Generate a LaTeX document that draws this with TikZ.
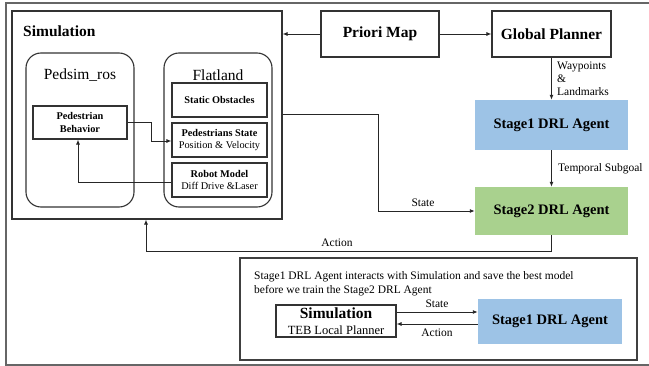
\documentclass[tikz,border=0pt]{standalone}
\usepackage{fontspec}
\setmainfont{Liberation Serif}
\usetikzlibrary{arrows.meta}
\newcommand{\fs}[1]{\fontsize{#1}{1.2\dimexpr#1pt\relax}\selectfont}
\begin{document}
\begin{tikzpicture}[x=1pt,y=-1pt,
  box/.style={draw=black!80,line width=1.1pt,rectangle,inner sep=0pt,align=center},
  rbox/.style={box,rounded corners=15pt},
  sbox/.style={box,minimum width=95pt,minimum height=34pt},
  arr/.style={-{Latex[length=5pt,width=4pt]},line width=0.9pt,draw=black!85},
  lbl/.style={inner sep=0pt,font=\fs{11.5}},
  big/.style={font=\bfseries\fs{15.5}},
  small/.style={font=\fs{10.3}}
]
\useasboundingbox (0,0) rectangle (649,366);
\draw[line width=1.3pt,draw=black!60] (660,3) -- (6,3) -- (6,365) -- (660,365);

% Simulation group
\node[box,minimum width=270pt,minimum height=208pt] (sim) at (147,115) {};
\node[anchor=west,inner sep=0pt,big] (simt) at (23,31) {Simulation};
\node[rbox,minimum width=108pt,minimum height=154pt] (ped) at (80,130) {};
\node[inner sep=0pt,font=\fs{15.5}] (pedt) at (80,75) {Pedsim\_ros};
\node[rbox,minimum width=108pt,minimum height=154pt] (flat) at (218,130) {};
\node[inner sep=0pt,font=\fs{15.5}] (flatt) at (218,75) {Flatland};
\node[sbox,small] (stat) at (219.5,100) {\textbf{Static Obstacles}};
\node[sbox,small] (pstate) at (219.5,140) {\textbf{Pedestrians State}\\Position \& Velocity};
\node[sbox,small] (robot) at (219.5,180) {\textbf{Robot Model}\\Diff Drive \&Laser};
\node[box,minimum width=94pt,minimum height=33pt,font=\bfseries\fs{10.3}] (pbeh) at (80,122.5) {Pedestrian\\Behavior};

% Top row
\node[box,minimum width=118pt,minimum height=46pt,big] (priori) at (380,34) {Priori Map};
\node[box,minimum width=119pt,minimum height=46pt,big] (glob) at (551.5,34) {Global Planner};
\node[rectangle,fill={rgb,255:red,157;green,195;blue,230},minimum width=153pt,minimum height=50pt,font=\bfseries\fs{14.5}] (s1) at (551.5,125) {Stage1 DRL Agent};
\node[rectangle,fill={rgb,255:red,169;green,209;blue,142},minimum width=153pt,minimum height=48pt,font=\bfseries\fs{14.5}] (s2) at (551.5,211) {Stage2 DRL Agent};

% connectors
\draw[arr] (priori.west) -- (priori.west -| sim.east);
\draw[arr] (priori.east) -- (glob.west);
\draw[arr] (glob.south) -- (s1.north);
\node[lbl,anchor=west,align=left] (wp) at (557,79) {Waypoints\\[-1pt]\&\\[-1pt]Landmarks};
\draw[arr] (s1.south) -- (s2.north);
\node[lbl,anchor=west] (ts) at (558,169) {Temporal Subgoal};
\coordinate (c1) at (378,114);
\draw[arr] (sim.east |- c1) -- (c1) -- (c1 |- s2.west) -- (s2.west);
\node[lbl] (st) at (423,203) {State};
\coordinate (c2) at (146,251);
\draw[arr] (s2.south) -- (s2.south |- c2) -- (c2) -- (c2 |- sim.south);
\node[lbl] (act) at (337,243) {Action};

\coordinate (c3) at (151,122.5);
\draw[arr] (pbeh.east) -- (c3) -- (c3 |- 0,141) -- (pstate.west |- 0,141);
\coordinate (c4) at (78,182);
\draw[arr] (robot.west |- c4) -- (c4) -- (c4 |- pbeh.south);

% bottom box
\node[box,line width=1.1pt,draw=black!75,minimum width=397pt,minimum height=102pt] (bot) at (438.5,309) {};
\node[anchor=west,align=left,inner sep=0pt,font=\fs{11.5}] (btxt) at (254,283.5) {Stage1 DRL Agent interacts with Simulation and save the best model\\before we train the Stage2 DRL Agent};
\node[box,minimum width=120pt,minimum height=32pt] (simb) at (336,321) {};
\node[inner sep=0pt,big] (simbt) at (336,313) {Simulation};
\node[inner sep=0pt,font=\fs{12.5}] (simbs) at (336,330) {TEB Local Planner};
\node[rectangle,fill={rgb,255:red,157;green,195;blue,230},minimum width=144pt,minimum height=45pt,font=\bfseries\fs{14.5}] (s1b) at (550,321.5) {Stage1 DRL Agent};
\draw[arr] (simb.east |- 0,312) -- (s1b.west |- 0,312);
\draw[arr] (s1b.west |- 0,324) -- (simb.east |- 0,324);
\node[lbl] (bst) at (437,304) {State};
\node[lbl] (bact) at (437,333) {Action};
\end{tikzpicture}
\end{document}
